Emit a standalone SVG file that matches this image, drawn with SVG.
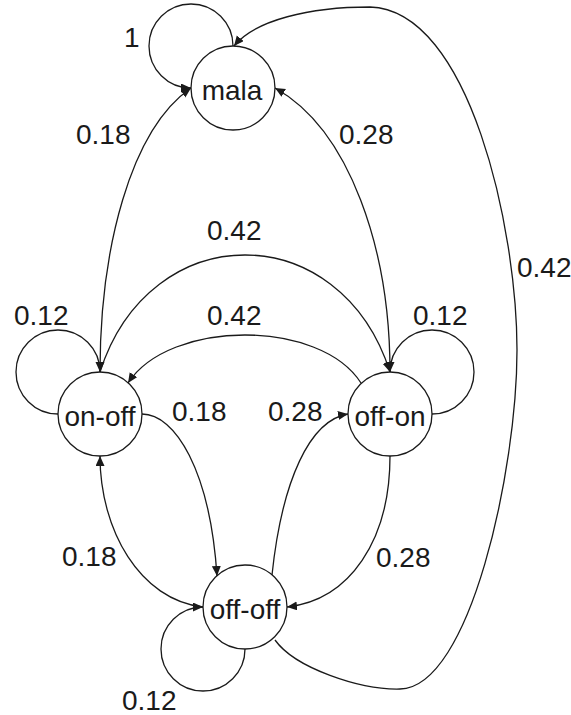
<svg xmlns="http://www.w3.org/2000/svg" width="571" height="715" viewBox="0 0 571 715">
  <style>
    .node circle { fill: #ffffff; stroke: #1a1a1a; stroke-width: 1.3; }
    .node text, .label { font-family: "Liberation Sans", Arial, sans-serif; font-size: 28px; fill: #1a1a1a; }
    .node text { text-anchor: middle; }
    .edge { fill: none; stroke: #1a1a1a; stroke-width: 1.3; marker-end: url(#arrow); }
  </style>
  <defs>
    <marker id="arrow" markerUnits="userSpaceOnUse" markerWidth="11" markerHeight="10" refX="10" refY="4.5" orient="auto">
      <path d="M0,0 L10,4.5 L0,9 Z" fill="#1a1a1a"/>
    </marker>
  </defs>

  <!-- states -->
  <g id="node-mala" class="node">
    <circle cx="233" cy="88" r="42"/>
    <text x="232" y="100">mala</text>
  </g>
  <g id="node-on-off" class="node">
    <circle cx="100" cy="414" r="42"/>
    <text x="100" y="426">on-off</text>
  </g>
  <g id="node-off-on" class="node">
    <circle cx="390" cy="414" r="42"/>
    <text x="390" y="426">off-on</text>
  </g>
  <g id="node-off-off" class="node">
    <circle cx="245" cy="607" r="42"/>
    <text x="245" y="619">off-off</text>
  </g>

  <!-- transitions -->
  <g id="edges">
    <!-- self loops -->
    <path class="edge" d="M233,46 A42,42 0 1 0 191,88"/>
    <path class="edge" d="M58,414 A42,42 0 1 1 100,372"/>
    <path class="edge" d="M432,414 A42,42 0 1 0 390,372"/>
    <path class="edge" d="M245,649 A42,42 0 1 1 203,607"/>
    <!-- on-off -> mala -->
    <path class="edge" d="M100,372 C100,250 130,130 191,88"/>
    <!-- off-on -> mala -->
    <path class="edge" d="M390,372 C390,250 350,130 275,88"/>
    <!-- on-off -> off-on (upper arc) -->
    <path class="edge" d="M100,372 C150,216 340,216 390,372"/>
    <!-- off-on -> on-off (lower arc) -->
    <path class="edge" d="M361,383 C320,319 170,319 128,383"/>
    <!-- on-off -> off-off -->
    <path class="edge" d="M142,414 C175,414 210,470 217,576"/>
    <!-- off-off -> off-on -->
    <path class="edge" d="M272,575 C282,480 310,420 348,414"/>
    <!-- off-on -> off-off -->
    <path class="edge" d="M390,456 C390,540 350,600 287,607"/>
    <!-- off-off -> on-off -->
    <path class="edge" d="M203,607 C140,600 100,530 100,456"/>
    <!-- off-off -> mala (outer sweep) -->
    <path class="edge" d="M275,640 C295,668 360,690 400,689 C470,688 517,470 517,350 C517,230 470,10 370,7 C310,7 255,20 234,46"/>
  </g>

  <!-- transition probabilities -->
  <g id="edge-labels" class="label">
    <text x="124" y="47">1</text>
    <text x="76" y="144">0.18</text>
    <text x="339" y="144">0.28</text>
    <text x="207" y="240">0.42</text>
    <text x="207" y="325">0.42</text>
    <text x="14" y="325">0.12</text>
    <text x="413" y="325">0.12</text>
    <text x="517" y="277">0.42</text>
    <text x="172" y="421">0.18</text>
    <text x="268" y="421">0.28</text>
    <text x="62" y="566">0.18</text>
    <text x="376" y="567">0.28</text>
    <text x="122" y="710">0.12</text>
  </g>
</svg>
